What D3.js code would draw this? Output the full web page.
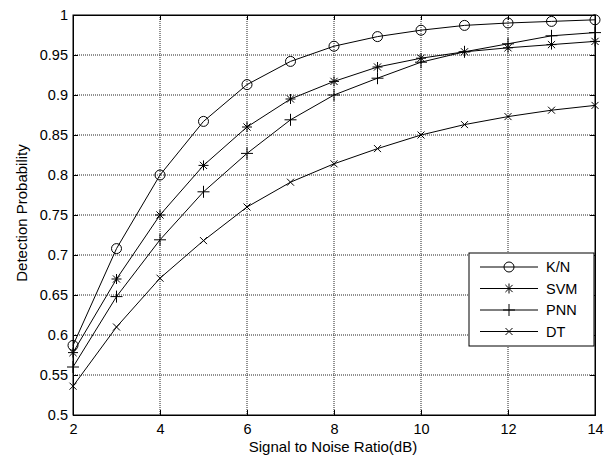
<!DOCTYPE html>
<html>
<head>
<meta charset="utf-8">
<script src="https://cdn.jsdelivr.net/npm/d3@7"></script>
<style>
  body { margin: 0; background: #fff; }
  text { font-family: "Liberation Sans", Arial, sans-serif; fill: #000; }
</style>
</head>
<body>
<script>
/* data */
var snr = [2, 3, 4, 5, 6, 7, 8, 9, 10, 11, 12, 13, 14];
var kn  = [0.587, 0.708, 0.800, 0.867, 0.913, 0.942, 0.961, 0.973, 0.981, 0.987, 0.990, 0.992, 0.994];
var svm = [0.578, 0.670, 0.750, 0.812, 0.860, 0.895, 0.917, 0.935, 0.946, 0.954, 0.959, 0.963, 0.967];
var pnn = [0.560, 0.648, 0.719, 0.779, 0.827, 0.869, 0.900, 0.921, 0.941, 0.954, 0.964, 0.974, 0.978];
var dt  = [0.536, 0.610, 0.671, 0.718, 0.760, 0.791, 0.814, 0.833, 0.850, 0.863, 0.873, 0.881, 0.887];
var seriesNames = ["K/N", "SVM", "PNN", "DT"];
var markers = ["circle", "star", "plus", "cross"];
var xTicks = [2, 4, 6, 8, 10, 12, 14];
var yTicks = [0.5, 0.55, 0.6, 0.65, 0.7, 0.75, 0.8, 0.85, 0.9, 0.95, 1];

var margin = {top: 15, right: 10, bottom: 41, left: 73},
    width = 595 - margin.left,
    height = 415 - margin.top;

var svg = d3.select("body").append("svg")
    .attr("width", 605)
    .attr("height", 456)
    .append("g")
    .attr("transform", "translate(" + margin.left + "," + margin.top + ")");

var x = d3.scaleLinear().domain([2, 14]).range([0, width]);
var y = d3.scaleLinear().domain([0.5, 1]).range([height, 0]);

/* grid, dotted like matlab */
svg.append("g").selectAll("line")
    .data(xTicks.slice(1, -1))
    .enter().append("line")
    .attr("x1", function(d) { return x(d); }).attr("x2", function(d) { return x(d); })
    .attr("y1", 0).attr("y2", height)
    .attr("stroke", "#222").attr("stroke-width", 1).attr("stroke-dasharray", "1,1");
svg.append("g").selectAll("line")
    .data(yTicks.slice(1, -1))
    .enter().append("line")
    .attr("x1", 0).attr("x2", width)
    .attr("y1", function(d) { return y(d); }).attr("y2", function(d) { return y(d); })
    .attr("stroke", "#222").attr("stroke-width", 1).attr("stroke-dasharray", "1,1");

/* axes with inward ticks */
var xAxis = d3.axisBottom(x).tickValues(xTicks).tickSize(-5).tickPadding(9).tickFormat(d3.format("d"));
var yAxis = d3.axisLeft(y).tickValues(yTicks).tickSize(-5).tickPadding(5).tickFormat(function(d) { return d3.format("")(+d.toFixed(2)); });

svg.append("g").attr("transform", "translate(0," + height + ")").call(xAxis);
svg.append("g").call(yAxis);
svg.append("g").call(d3.axisTop(x).tickValues(xTicks).tickSize(-5).tickFormat(""));
svg.append("g").attr("transform", "translate(" + width + ",0)").call(d3.axisRight(y).tickValues(yTicks).tickSize(-5).tickFormat(""));

svg.selectAll(".domain").attr("stroke", "#000");
svg.selectAll(".tick line").attr("stroke", "#000");
svg.selectAll(".tick text").style("font-size", "14.5px");

svg.append("rect")
    .attr("width", width).attr("height", height)
    .attr("fill", "none").attr("stroke", "#000").attr("stroke-width", 1);

/* axis labels */
svg.append("text")
    .attr("x", width / 2 - 1).attr("y", height + 37)
    .attr("text-anchor", "middle")
    .style("font-size", "15px")
    .text("Signal to Noise Ratio(dB)");
svg.append("text")
    .attr("transform", "rotate(-90)")
    .attr("x", -height / 2 + 2).attr("y", -46)
    .attr("text-anchor", "middle")
    .style("font-size", "15px")
    .text("Detection Probability");

/* marker drawing */
function drawMarker(g, type, cx, cy) {
    if (type === "circle") {
        g.append("circle").attr("cx", cx).attr("cy", cy).attr("r", 5)
            .attr("fill", "none").attr("stroke", "#000");
    } else if (type === "plus") {
        g.append("path").attr("d", "M" + (cx - 6) + "," + cy + "H" + (cx + 6) + "M" + cx + "," + (cy - 6) + "V" + (cy + 6))
            .attr("stroke", "#000");
    } else if (type === "cross") {
        g.append("path").attr("d", "M" + (cx - 3.5) + "," + (cy - 3.5) + "L" + (cx + 3.5) + "," + (cy + 3.5) + "M" + (cx - 3.5) + "," + (cy + 3.5) + "L" + (cx + 3.5) + "," + (cy - 3.5))
            .attr("stroke", "#000");
    } else {
        var s = 5, d = 3.6;
        g.append("path").attr("d",
            "M" + (cx - s) + "," + cy + "H" + (cx + s) +
            "M" + cx + "," + (cy - s) + "V" + (cy + s) +
            "M" + (cx - d) + "," + (cy - d) + "L" + (cx + d) + "," + (cy + d) +
            "M" + (cx - d) + "," + (cy + d) + "L" + (cx + d) + "," + (cy - d))
            .attr("stroke", "#000");
    }
}

var line = d3.line()
    .x(function(d) { return x(d.snr); })
    .y(function(d) { return y(d.p); });

var allSeries = [kn, svm, pnn, dt].map(function(vals, i) {
    return {
        id: seriesNames[i],
        marker: markers[i],
        values: snr.map(function(s, j) { return {snr: s, p: vals[j]}; })
    };
});

allSeries.forEach(function(s) {
    var g = svg.append("g");
    g.append("path")
        .attr("d", line(s.values))
        .attr("fill", "none")
        .attr("stroke", "#000")
        .attr("stroke-width", 1);
    s.values.forEach(function(d) { drawMarker(g, s.marker, x(d.snr), y(d.p)); });
});

/* legend */
var lx = 469 - margin.left, ly = 253 - margin.top;
var legend = svg.append("g").attr("transform", "translate(" + lx + "," + ly + ")");
legend.append("rect")
    .attr("width", 125).attr("height", 93)
    .attr("fill", "#fff").attr("stroke", "#000").attr("stroke-width", 1);
allSeries.forEach(function(s, i) {
    var yy = 14 + i * 21.5;
    legend.append("line")
        .attr("x1", 11).attr("x2", 69).attr("y1", yy).attr("y2", yy)
        .attr("stroke", "#000");
    drawMarker(legend, s.marker, 40, yy);
    legend.append("text")
        .attr("x", 77).attr("y", yy).attr("dy", "0.35em")
        .style("font-size", "14.5px")
        .text(s.id);
});
</script>
</body>
</html>
